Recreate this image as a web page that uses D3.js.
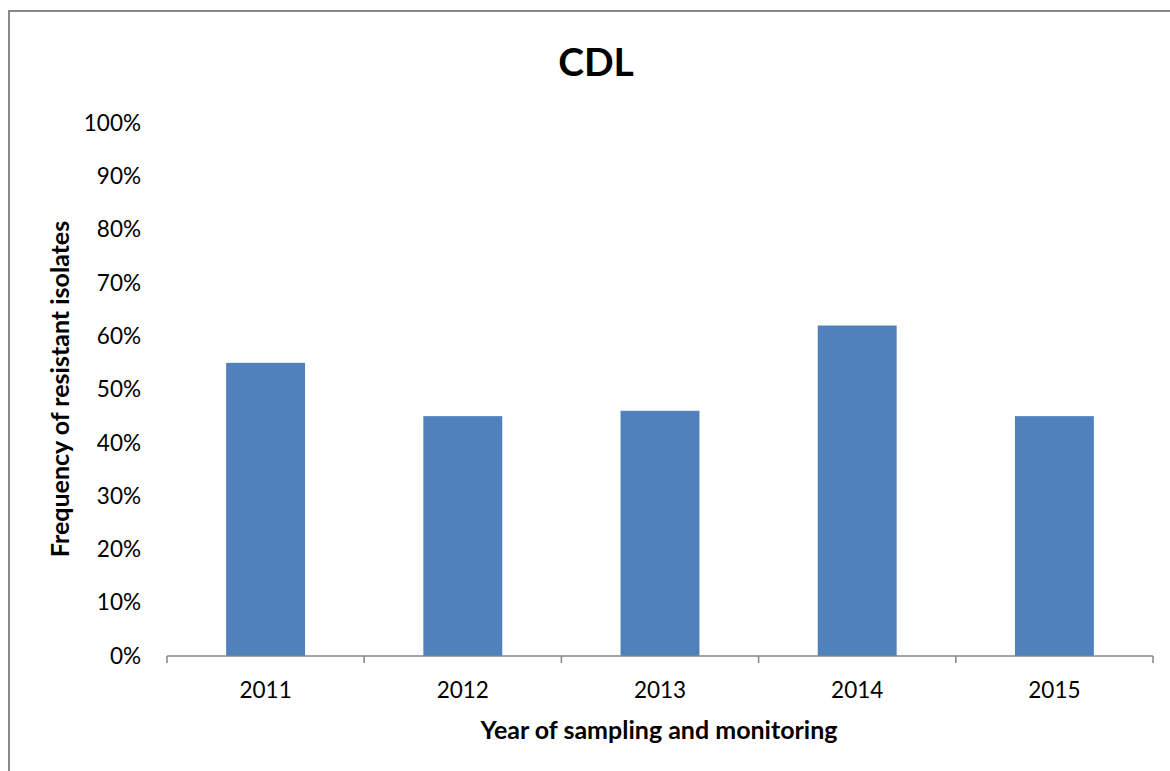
<!DOCTYPE html>
<html>
<head>
<meta charset="utf-8">
<script src="https://cdn.jsdelivr.net/npm/d3@7/dist/d3.min.js"></script>
<style>
  html, body { margin: 0; padding: 0; background: #fff; }
  svg { display: block; }
  text { font-family: Lato, "Open Sans", sans-serif; fill: #000; }
</style>
</head>
<body>
<svg id="chart" width="1170" height="771"></svg>
<script>
// Resistance frequency by sampling year
const years = ["2011", "2012", "2013", "2014", "2015"];
const resistantFreq = [0.55, 0.45, 0.46, 0.62, 0.45];
const yTicks = [0, 0.1, 0.2, 0.3, 0.4, 0.5, 0.6, 0.7, 0.8, 0.9, 1.0];

const chartTitle = "CDL";
const xTitle = "Year of sampling and monitoring";
const yTitle = "Frequency of resistant isolates";

const svg = d3.select("#chart");
const W = 1170, H = 771;

// chart frame (right and bottom edges sit outside the view)
svg.append("rect")
  .attr("x", 9).attr("y", 11)
  .attr("width", W + 20).attr("height", H + 20)
  .attr("fill", "#fff")
  .attr("stroke", "#898989")
  .attr("stroke-width", 2);

const plot = { left: 167, right: 1153, top: 123, bottom: 656 };

const x = d3.scaleBand()
  .domain(years)
  .range([plot.left, plot.right])
  .paddingInner(0.6)
  .paddingOuter(0.3);

const y = d3.scaleLinear()
  .domain([0, 1])
  .range([plot.bottom, plot.top]);

// bars
svg.append("g")
  .selectAll("rect")
  .data(years.map((yr, i) => ({ yr, v: resistantFreq[i] })))
  .join("rect")
  .attr("x", d => x(d.yr))
  .attr("y", d => y(d.v))
  .attr("width", x.bandwidth())
  .attr("height", d => y(0) - y(d.v))
  .attr("fill", "#4f81bd");

// x axis: baseline with ticks at category boundaries
const xAxisG = svg.append("g");
xAxisG.append("line")
  .attr("x1", plot.left).attr("x2", plot.right)
  .attr("y1", y(0)).attr("y2", y(0))
  .attr("stroke", "#868686").attr("stroke-width", 1.5);

const step = (plot.right - plot.left) / years.length;
const boundaries = d3.range(years.length + 1).map(i => plot.left + i * step);
xAxisG.selectAll("line.tick")
  .data(boundaries)
  .join("line")
  .attr("class", "tick")
  .attr("x1", d => d).attr("x2", d => d)
  .attr("y1", y(0)).attr("y2", y(0) + 7)
  .attr("stroke", "#868686").attr("stroke-width", 1.5);

xAxisG.selectAll("text")
  .data(years)
  .join("text")
  .attr("x", d => x(d) + x.bandwidth() / 2)
  .attr("y", y(0) + 42)
  .attr("text-anchor", "middle")
  .style("font-size", "22.5px")
  .text(d => d);

// y axis labels (no axis line)
const yAxis = d3.axisLeft(y)
  .tickValues(yTicks)
  .tickFormat(d3.format(".0%"))
  .tickSize(0)
  .tickPadding(0);

const yAxisG = svg.append("g")
  .attr("transform", `translate(${141},0)`)
  .call(yAxis);
yAxisG.select(".domain").remove();
yAxisG.selectAll("text")
  .attr("fill", "#000")
  .style("font-family", "Lato, 'Open Sans', sans-serif")
  .style("font-size", "22.5px");

// titles
svg.append("text")
  .attr("x", 596).attr("y", 76)
  .attr("text-anchor", "middle")
  .style("font-size", "39px")
  .style("font-weight", "bold")
  .text(chartTitle);

svg.append("text")
  .attr("x", 659).attr("y", 739)
  .attr("text-anchor", "middle")
  .style("font-size", "25px")
  .style("font-weight", "bold")
  .text(xTitle);

svg.append("text")
  .attr("transform", `translate(69, ${389}) rotate(-90)`)
  .attr("text-anchor", "middle")
  .style("font-size", "25px")
  .style("font-weight", "bold")
  .text(yTitle);
</script>
</body>
</html>
